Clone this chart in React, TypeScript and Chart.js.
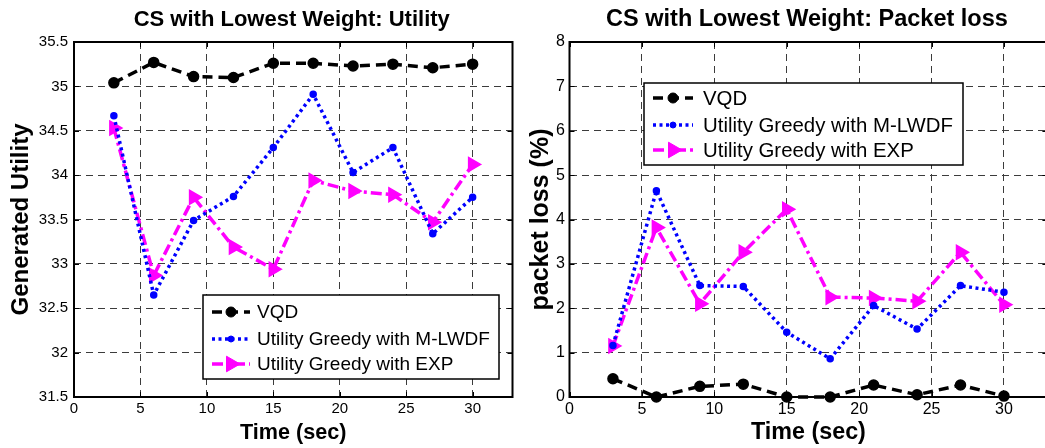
import React, { useEffect, useRef } from 'react';
import { Chart, registerables } from 'chart.js';

Chart.register(...registerables);

const FONT = '"Liberation Sans", Arial, Helvetica, sans-serif';

// Sampling instants (seconds)
const timeSec = [3, 6, 9, 12, 15, 18, 21, 24, 27, 30];
const seriesNames = ['VQD', 'Utility Greedy with M-LWDF', 'Utility Greedy with EXP'];

// Generated utility per scheme
const utilityVQD = [35.04, 35.27, 35.11, 35.1, 35.26, 35.26, 35.23, 35.25, 35.21, 35.25];
const utilityMLWDF = [34.67, 32.65, 33.49, 33.76, 34.31, 34.91, 34.03, 34.31, 33.34, 33.75];
const utilityEXP = [34.53, 32.87, 33.75, 33.19, 32.94, 33.94, 33.82, 33.78, 33.47, 34.12];

// Packet loss (%) per scheme
const lossVQD = [0.41, 0.0, 0.24, 0.29, 0.0, 0.0, 0.27, 0.05, 0.27, 0.02];
const lossMLWDF = [1.16, 4.65, 2.51, 2.49, 1.46, 0.86, 2.06, 1.53, 2.51, 2.36];
const lossEXP = [1.15, 3.82, 2.1, 3.26, 4.23, 2.25, 2.23, 2.16, 3.26, 2.08];

// Axis ticks
const timeTicks = [0, 5, 10, 15, 20, 25, 30];
const utilityTicks = [31.5, 32, 32.5, 33, 33.5, 34, 34.5, 35, 35.5];
const lossTicks = [0, 1, 2, 3, 4, 5, 6, 7, 8];

type SeriesStyle = {
  color: string;
  dash: number[];
  marker: 'circle' | 'triangle';
  size: number;
  legendSize: number;
  rotation: number;
};

const seriesStyles: SeriesStyle[] = [
  { color: '#000000', dash: [10, 6], marker: 'circle', size: 5, legendSize: 5, rotation: 0 },
  { color: '#0000ff', dash: [3, 3.5], marker: 'circle', size: 3, legendSize: 3, rotation: 0 },
  { color: '#ff00ff', dash: [11, 4, 3, 4], marker: 'triangle', size: 8, legendSize: 9, rotation: 90 },
];

type PanelConfig = {
  title: string;
  yLabel: string;
  series: number[][];
  yTicks: number[];
  left: number;
  width: number;
  padRight: number;
  yAxisWidth: number;
  xAxisHeight: number;
  tickFont: number;
  yTickPad: number;
  titleFont: number;
  xTitleFont: number;
  xTitlePad: number;
  yTitleFont: number;
  yTitlePad: number;
  legend: { x: number; y: number; w: number; h: number; font: number; rows: number[]; sample: [number, number]; textX: number };
};

const utilityPanel: PanelConfig = {
  title: 'CS with Lowest Weight: Utility',
  yLabel: 'Generated Utility',
  series: [utilityVQD, utilityMLWDF, utilityEXP],
  yTicks: utilityTicks,
  left: 0,
  width: 522,
  padRight: 2.5,
  yAxisWidth: 74,
  xAxisHeight: 51,
  tickFont: 15,
  yTickPad: 6,
  titleFont: 22,
  xTitleFont: 21.6,
  xTitlePad: 4.5,
  yTitleFont: 24,
  yTitlePad: 9,
  legend: { x: 203, y: 295, w: 296, h: 84, font: 19, rows: [17, 44, 69], sample: [9, 47], textX: 54 },
};

const lossPanel: PanelConfig = {
  title: 'CS with Lowest Weight: Packet loss',
  yLabel: 'packet loss (%)',
  series: [lossVQD, lossMLWDF, lossEXP],
  yTicks: lossTicks,
  left: 522,
  width: 538,
  padRight: 12.6,
  yAxisWidth: 47.5,
  xAxisHeight: 51,
  tickFont: 16,
  yTickPad: 4.5,
  titleFont: 23.5,
  xTitleFont: 23.3,
  xTitlePad: 3.5,
  yTitleFont: 25,
  yTitlePad: 6.5,
  legend: { x: 122, y: 83, w: 319, h: 82, font: 20.4, rows: [15, 42, 67], sample: [9, 49], textX: 59 },
};

function drawMarker(ctx: CanvasRenderingContext2D, style: SeriesStyle, x: number, y: number, r: number) {
  ctx.save();
  ctx.setLineDash([]);
  ctx.fillStyle = style.color;
  ctx.strokeStyle = style.color;
  ctx.lineWidth = 1;
  ctx.beginPath();
  if (style.marker === 'circle') {
    ctx.arc(x, y, r, 0, Math.PI * 2);
  } else {
    ctx.moveTo(x + r, y);
    ctx.lineTo(x - r / 2, y - r * 0.866);
    ctx.lineTo(x - r / 2, y + r * 0.866);
    ctx.closePath();
  }
  ctx.fill();
  ctx.stroke();
  ctx.restore();
}

function makeDecor(cfg: PanelConfig) {
  return {
    id: 'panelDecor',
    beforeDatasetsDraw(chart: any) {
      const { ctx, chartArea } = chart;
      const { left, right, top, bottom } = chartArea;
      const xs = chart.scales.x;
      const ys = chart.scales.y;
      ctx.save();
      ctx.setLineDash([]);
      ctx.strokeStyle = '#000';
      ctx.lineWidth = 1;
      // inward tick marks on all four sides
      ctx.beginPath();
      timeTicks.forEach((v) => {
        const px = Math.round(xs.getPixelForValue(v)) + 0.5;
        ctx.moveTo(px, bottom);
        ctx.lineTo(px, bottom - 5);
        ctx.moveTo(px, top);
        ctx.lineTo(px, top + 5);
      });
      cfg.yTicks.forEach((v) => {
        const py = Math.round(ys.getPixelForValue(v)) + 0.5;
        ctx.moveTo(left, py);
        ctx.lineTo(left + 5, py);
        ctx.moveTo(right, py);
        ctx.lineTo(right - 5, py);
      });
      ctx.stroke();
      // axes box
      ctx.lineWidth = 2;
      ctx.strokeRect(left, top, right - left, bottom - top);
      ctx.restore();
    },
    afterDatasetsDraw(chart: any) {
      const { ctx } = chart;
      const lg = cfg.legend;
      ctx.save();
      ctx.fillStyle = '#fff';
      ctx.fillRect(lg.x, lg.y, lg.w, lg.h);
      ctx.strokeStyle = '#000';
      ctx.lineWidth = 1.5;
      ctx.setLineDash([]);
      ctx.strokeRect(lg.x, lg.y, lg.w, lg.h);
      chart.data.datasets.forEach((ds: any, i: number) => {
        const st = seriesStyles[i];
        const y = lg.y + lg.rows[i];
        const x0 = lg.x + lg.sample[0];
        const x1 = lg.x + lg.sample[1];
        ctx.save();
        ctx.strokeStyle = st.color;
        ctx.lineWidth = 3.5;
        ctx.lineCap = 'butt';
        ctx.setLineDash(st.dash);
        ctx.beginPath();
        ctx.moveTo(x0, y);
        ctx.lineTo(x1, y);
        ctx.stroke();
        ctx.restore();
        drawMarker(ctx, st, (x0 + x1) / 2, y, st.legendSize);
        ctx.fillStyle = '#000';
        ctx.font = `${lg.font}px ${FONT}`;
        ctx.textAlign = 'left';
        ctx.textBaseline = 'middle';
        ctx.fillText(ds.label, lg.x + lg.textX, y + 1);
      });
      ctx.restore();
    },
    afterDraw(chart: any) {
      const { ctx, chartArea } = chart;
      ctx.save();
      ctx.fillStyle = '#000';
      ctx.font = `bold ${cfg.titleFont}px ${FONT}`;
      ctx.textAlign = 'center';
      ctx.textBaseline = 'middle';
      ctx.fillText(cfg.title, (chartArea.left + chartArea.right) / 2 - 1.5, 20);
      ctx.restore();
    },
  };
}

function Panel({ cfg }: { cfg: PanelConfig }) {
  const ref = useRef<HTMLCanvasElement | null>(null);

  useEffect(() => {
    const canvas = ref.current;
    if (!canvas) return;
    const datasets = cfg.series.map((vals, i) => {
      const st = seriesStyles[i];
      return {
        label: seriesNames[i],
        data: timeSec.map((t, k) => ({ x: t, y: vals[k] })),
        borderColor: st.color,
        backgroundColor: st.color,
        borderWidth: 3.5,
        borderDash: st.dash,
        borderCapStyle: 'butt',
        borderJoinStyle: 'round',
        tension: 0,
        fill: false,
        clip: false,
        pointStyle: st.marker,
        pointRotation: st.rotation,
        pointRadius: st.size,
        pointBackgroundColor: st.color,
        pointBorderColor: st.color,
        pointBorderWidth: 1.5,
      };
    });

    const chart = new Chart(canvas, {
      type: 'line',
      data: { datasets } as any,
      options: {
        responsive: false,
        animation: false,
        devicePixelRatio: 1,
        layout: { padding: { top: 42, right: cfg.padRight, left: 0, bottom: 0 } },
        plugins: {
          legend: { display: false },
          title: { display: false },
          tooltip: { enabled: false },
        },
        scales: {
          x: {
            type: 'linear',
            min: 0,
            max: 33,
            afterBuildTicks: (s: any) => {
              s.ticks = timeTicks.map((v) => ({ value: v }));
            },
            afterFit: (s: any) => {
              s.height = cfg.xAxisHeight;
            },
            ticks: {
              font: { family: FONT, size: cfg.tickFont },
              color: '#000',
              padding: 3,
              autoSkip: false,
              maxRotation: 0,
              callback: (v: any) => String(v),
            },
            grid: { color: '#3c3c3c', lineWidth: 1, drawTicks: false },
            border: { display: false, dash: [7, 5] },
            title: {
              display: true,
              text: 'Time (sec)',
              color: '#000',
              font: { family: FONT, size: cfg.xTitleFont, weight: 'bold', lineHeight: 1 },
              padding: { top: 0, bottom: cfg.xTitlePad },
            },
          },
          y: {
            type: 'linear',
            min: cfg.yTicks[0],
            max: cfg.yTicks[cfg.yTicks.length - 1],
            afterBuildTicks: (s: any) => {
              s.ticks = cfg.yTicks.map((v) => ({ value: v }));
            },
            afterFit: (s: any) => {
              s.width = cfg.yAxisWidth;
            },
            ticks: {
              font: { family: FONT, size: cfg.tickFont },
              color: '#000',
              padding: cfg.yTickPad,
              autoSkip: false,
              callback: (v: any) => String(v),
            },
            grid: { color: '#3c3c3c', lineWidth: 1, drawTicks: false },
            border: { display: false, dash: [7, 5] },
            title: {
              display: true,
              text: cfg.yLabel,
              color: '#000',
              font: { family: FONT, size: cfg.yTitleFont, weight: 'bold', lineHeight: 1 },
              padding: { top: cfg.yTitlePad, bottom: 0 },
            },
          },
        },
      } as any,
      plugins: [makeDecor(cfg)],
    });
    return () => chart.destroy();
  }, [cfg]);

  return (
    <canvas
      ref={ref}
      width={cfg.width}
      height={448}
      style={{ position: 'absolute', left: cfg.left, top: 0, width: cfg.width, height: 448 }}
    />
  );
}

export default function App() {
  return (
    <div
      style={{
        position: 'fixed',
        left: 0,
        top: 0,
        width: 1045,
        height: 448,
        overflow: 'hidden',
        background: '#ffffff',
      }}
    >
      <Panel cfg={utilityPanel} />
      <Panel cfg={lossPanel} />
    </div>
  );
}
